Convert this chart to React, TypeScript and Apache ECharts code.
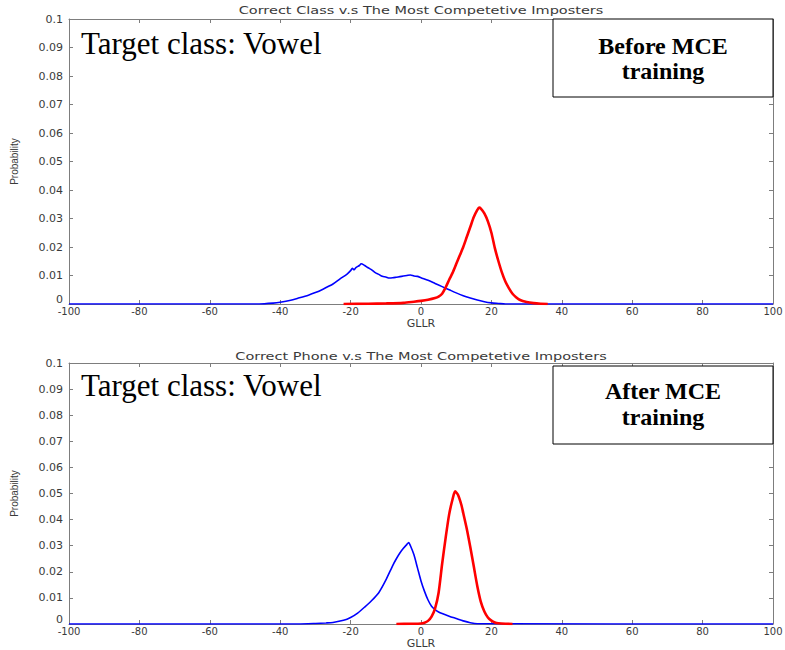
import React, { useEffect, useRef } from "react";
import * as echarts from "echarts";

// GLLR tick values shared by both panels
const xTicks = [-100, -80, -60, -40, -20, 0, 20, 40, 60, 80, 100];

// Before MCE training: correct class (red) vs. most competitive imposters (blue)
const beforeImpX = [-100, -46, -42, -40, -37, -35, -32, -30, -28, -25, -23, -21, -20, -19.5, -19, -18.5, -17.5, -17, -16, -15, -14, -13, -12, -11, -10, -9, -8, -7, -6, -5, -4, -3, -2, -1, 0, 2, 4, 6, 8, 10, 12, 14, 16, 18, 20, 22, 24, 100];
const beforeImpY = [0, 0, 0.0003, 0.0006, 0.0013, 0.002, 0.0031, 0.004, 0.0051, 0.007, 0.0088, 0.0105, 0.0117, 0.0125, 0.012, 0.0128, 0.0135, 0.0141, 0.0135, 0.0127, 0.012, 0.011, 0.0104, 0.0097, 0.0095, 0.0091, 0.0092, 0.0094, 0.0096, 0.0098, 0.01, 0.0102, 0.0098, 0.0097, 0.0092, 0.0083, 0.0072, 0.0061, 0.005, 0.0039, 0.0029, 0.0021, 0.0014, 0.0008, 0.0004, 0.0002, 0, 0];
const beforeCorX = [-22, -15, -10, -5, -2, 0, 2, 4, 5, 6, 7, 8, 9, 10, 11, 12, 13, 14, 15, 16, 16.5, 17, 18, 19, 20, 21, 22, 23, 24, 25, 26, 27, 28, 30, 32, 34, 36];
const beforeCorY = [0, 0.0001, 0.0002, 0.0004, 0.0008, 0.0011, 0.0015, 0.0021, 0.0026, 0.0036, 0.0058, 0.0085, 0.011, 0.014, 0.017, 0.02, 0.0235, 0.027, 0.0305, 0.033, 0.0338, 0.0335, 0.0318, 0.029, 0.025, 0.0195, 0.015, 0.011, 0.0078, 0.0055, 0.0036, 0.0024, 0.0015, 0.0007, 0.0003, 0.0001, 0];

// After MCE training
const afterImpX = [-100, -35, -30, -27, -25, -22, -20, -18, -16, -14, -12, -10, -8, -7, -6, -5, -4, -3.5, -3, -2, -1, 0, 1, 2, 3, 4, 5, 6, 8, 10, 12, 14, 16, 100];
const afterImpY = [0, 0, 0.0002, 0.0004, 0.0006, 0.0014, 0.0025, 0.0042, 0.0065, 0.009, 0.012, 0.0168, 0.0225, 0.025, 0.0272, 0.029, 0.0305, 0.0312, 0.03, 0.0265, 0.0215, 0.0165, 0.0125, 0.0092, 0.0068, 0.0055, 0.0046, 0.004, 0.003, 0.0021, 0.0012, 0.0005, 0.0001, 0];
const afterCorX = [-7, -3, 0, 1, 2, 3, 4, 5, 6, 7, 8, 9, 9.7, 10.5, 11.5, 12, 13, 14, 15, 16, 17, 18, 19, 20, 21, 22, 24, 26];
const afterCorY = [0, 0.0001, 0.0002, 0.0005, 0.0012, 0.0028, 0.006, 0.012, 0.023, 0.033, 0.042, 0.048, 0.0508, 0.0495, 0.0455, 0.0425, 0.0365, 0.0295, 0.022, 0.0145, 0.0085, 0.0048, 0.0025, 0.0013, 0.0006, 0.0003, 0.0001, 0];

const panelTitles = [
  "Correct Class v.s The Most Competetive Imposters",
  "Correct Phone v.s The Most Competetive Imposters",
];
const targetLabel = "Target class: Vowel";
const stageLabels = [
  ["Before MCE", "training"],
  ["After MCE", "training"],
];

const AXIS_COLOR = "#7d7d7d";
const LABEL_COLOR = "#3a3a3a";
const SANS = "DejaVu Sans";
const SERIF = "Liberation Serif";

const zip = (xs: number[], ys: number[]) => xs.map((x, i) => [x, ys[i]]);

// 0 is lifted a little so it clears the GLLR tick labels under it
const fmtY = (v: number) => (v === 0 ? "{z|0}" : String(Number(v.toFixed(2))));

export default function App() {
  const ref = useRef<HTMLDivElement>(null);

  useEffect(() => {
    if (!ref.current) return;
    const chart = echarts.init(ref.current, undefined, { renderer: "svg" });

    const grids = [
      { left: 69, top: 19, width: 704, height: 285, outerBoundsMode: "none" },
      { left: 69, top: 363, width: 704, height: 261, outerBoundsMode: "none" },
    ];

    const xAxes: any[] = [];
    const yAxes: any[] = [];
    grids.forEach((_, g) => {
      const tick = { show: true, inside: true, length: 4, lineStyle: { color: AXIS_COLOR } };
      xAxes.push({
        type: "value",
        gridIndex: g,
        min: xTicks[0],
        max: xTicks[xTicks.length - 1],
        interval: xTicks[1] - xTicks[0],
        position: "bottom",
        name: "GLLR",
        nameLocation: "middle",
        nameGap: 14,
        nameMoveOverlap: false,
        nameTextStyle: { fontFamily: SANS, fontSize: 11, color: LABEL_COLOR },
        axisLine: { show: true, onZero: false, lineStyle: { color: AXIS_COLOR } },
        axisTick: tick,
        splitLine: { show: false },
        axisLabel: { fontFamily: SANS, fontSize: 10, color: LABEL_COLOR, margin: 2 },
      });
      xAxes.push({
        type: "value",
        gridIndex: g,
        min: xTicks[0],
        max: xTicks[xTicks.length - 1],
        interval: xTicks[1] - xTicks[0],
        position: "top",
        axisLine: { show: true, onZero: false, lineStyle: { color: AXIS_COLOR } },
        axisTick: tick,
        splitLine: { show: false },
        axisLabel: { show: false },
      });
      yAxes.push({
        type: "value",
        gridIndex: g,
        min: 0,
        max: 0.1,
        interval: 0.01,
        position: "left",
        name: "Probability",
        nameLocation: "middle",
        nameGap: 50,
        nameRotate: 90,
        nameMoveOverlap: false,
        nameTextStyle: { fontFamily: "Liberation Sans", fontSize: 10, color: LABEL_COLOR },
        axisLine: { show: true, onZero: false, lineStyle: { color: AXIS_COLOR } },
        axisTick: tick,
        splitLine: { show: false },
        axisLabel: {
          fontFamily: SANS,
          fontSize: 11,
          color: LABEL_COLOR,
          margin: 6,
          formatter: fmtY,
          rich: { z: { fontFamily: SANS, fontSize: 11, color: LABEL_COLOR, padding: [0, 0, 10, 0] } },
        },
      });
      yAxes.push({
        type: "value",
        gridIndex: g,
        min: 0,
        max: 0.1,
        interval: 0.01,
        position: "right",
        axisLine: { show: true, onZero: false, lineStyle: { color: AXIS_COLOR } },
        axisTick: tick,
        splitLine: { show: false },
        axisLabel: { show: false },
      });
    });

    const line = (data: number[][], g: number, color: string, width: number) => ({
      type: "line",
      xAxisIndex: g * 2,
      yAxisIndex: g * 2,
      data,
      showSymbol: false,
      symbol: "none",
      smooth: 0.25,
      lineStyle: { color, width },
      z: width > 2 ? 3 : 2,
    });

    const series = [
      line(zip(beforeImpX, beforeImpY), 0, "#0000ff", 1.6),
      line(zip(beforeCorX, beforeCorY), 0, "#ff0000", 2.6),
      line(zip(afterImpX, afterImpY), 1, "#0000ff", 1.6),
      line(zip(afterCorX, afterCorY), 1, "#ff0000", 2.6),
    ];

    const graphic: any[] = [];
    const titleY = [10, 356];
    const targetMid = [43, 385];
    const boxTop = [19, 366];
    const stageMids = [
      [46, 71],
      [391, 417],
    ];
    grids.forEach((grid, g) => {
      graphic.push({
        type: "text",
        x: grid.left + grid.width / 2,
        y: titleY[g],
        scaleX: 1.45,
        style: {
          text: panelTitles[g],
          fontFamily: SANS,
          fontSize: 10,
          fill: LABEL_COLOR,
          textAlign: "center",
          textVerticalAlign: "middle",
          align: "center",
          verticalAlign: "middle",
        },
      });
      graphic.push({
        type: "text",
        x: 81,
        y: targetMid[g],
        style: {
          text: targetLabel,
          fontFamily: SERIF,
          fontSize: 31,
          fill: "#000",
          textAlign: "left",
          textVerticalAlign: "middle",
          align: "left",
          verticalAlign: "middle",
        },
        z: 10,
      });
      graphic.push({
        type: "rect",
        shape: { x: 553, y: boxTop[g], width: 220, height: 78 },
        style: { fill: "#fff", stroke: "#000", lineWidth: 1 },
        z: 10,
      });
      stageLabels[g].forEach((txt, k) => {
        graphic.push({
          type: "text",
          x: 663,
          y: stageMids[g][k],
          style: {
            text: txt,
            fontFamily: SERIF,
            fontSize: 24,
            fontWeight: "bold",
            fill: "#000",
            textAlign: "center",
            textVerticalAlign: "middle",
            align: "center",
            verticalAlign: "middle",
          },
          z: 11,
        });
      });
    });

    chart.setOption({
      animation: false,
      backgroundColor: "#fff",
      grid: grids,
      xAxis: xAxes,
      yAxis: yAxes,
      series,
      graphic,
    });

    return () => chart.dispose();
  }, []);

  return (
    <div
      ref={ref}
      style={{ position: "fixed", left: 0, top: 0, width: 785, height: 650 }}
    />
  );
}
